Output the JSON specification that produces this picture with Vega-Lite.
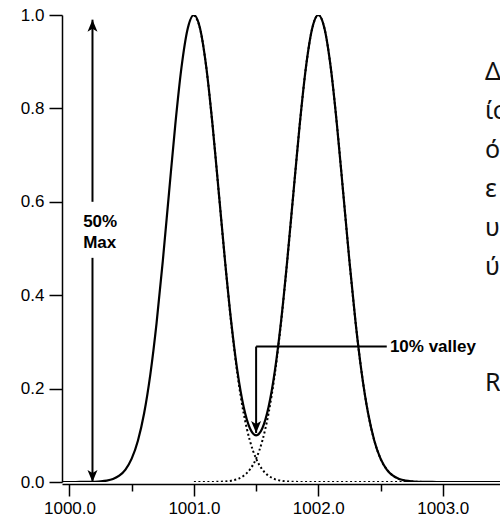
{
  "$schema": "https://vega.github.io/schema/vega-lite/v6.json",
  "width": 438,
  "height": 467,
  "autosize": {"type": "none"},
  "padding": {"left": 62, "top": 15, "right": 0, "bottom": 49},
  "background": "white",
  "config": {
    "view": {"stroke": null},
    "axis": {"grid": false, "domainColor": "black", "tickColor": "black", "labelColor": "black", "domainWidth": 1.5, "tickWidth": 1.5, "labelFont": "Liberation Sans", "labelFontSize": 17, "title": null}
  },
  "datasets": {
    "curve": [
      {"x": 999.9, "total": 0, "c1": null, "c2": null},
      {"x": 999.95, "total": 0, "c1": null, "c2": null},
      {"x": 1000.0, "total": 0, "c1": null, "c2": null},
      {"x": 1000.05, "total": 0, "c1": null, "c2": null},
      {"x": 1000.1, "total": 0.0001, "c1": null, "c2": null},
      {"x": 1000.15, "total": 0.0002, "c1": null, "c2": null},
      {"x": 1000.2, "total": 0.0005, "c1": null, "c2": null},
      {"x": 1000.25, "total": 0.0012, "c1": null, "c2": null},
      {"x": 1000.3, "total": 0.0028, "c1": null, "c2": null},
      {"x": 1000.35, "total": 0.0063, "c1": null, "c2": null},
      {"x": 1000.4, "total": 0.0134, "c1": null, "c2": null},
      {"x": 1000.45, "total": 0.0267, "c1": null, "c2": null},
      {"x": 1000.5, "total": 0.05, "c1": null, "c2": null},
      {"x": 1000.55, "total": 0.0884, "c1": null, "c2": null},
      {"x": 1000.6, "total": 0.1471, "c1": null, "c2": null},
      {"x": 1000.65, "total": 0.2305, "c1": null, "c2": null},
      {"x": 1000.7, "total": 0.3402, "c1": null, "c2": null},
      {"x": 1000.75, "total": 0.473, "c1": null, "c2": null},
      {"x": 1000.8, "total": 0.6193, "c1": null, "c2": null},
      {"x": 1000.85, "total": 0.7638, "c1": null, "c2": null},
      {"x": 1000.9, "total": 0.8871, "c1": null, "c2": null},
      {"x": 1000.95, "total": 0.9705, "c1": null, "c2": null},
      {"x": 1001.0, "total": 1.0, "c1": 1.0, "c2": 0},
      {"x": 1001.05, "total": 0.9705, "c1": 0.9705, "c2": 0},
      {"x": 1001.1, "total": 0.8872, "c1": 0.8871, "c2": 0.0001},
      {"x": 1001.15, "total": 0.764, "c1": 0.7638, "c2": 0.0002},
      {"x": 1001.2, "total": 0.6198, "c1": 0.6193, "c2": 0.0005},
      {"x": 1001.25, "total": 0.4742, "c1": 0.473, "c2": 0.0012},
      {"x": 1001.3, "total": 0.343, "c1": 0.3402, "c2": 0.0028},
      {"x": 1001.35, "total": 0.2368, "c1": 0.2305, "c2": 0.0063},
      {"x": 1001.4, "total": 0.1605, "c1": 0.1471, "c2": 0.0134},
      {"x": 1001.45, "total": 0.1151, "c1": 0.0884, "c2": 0.0267},
      {"x": 1001.5, "total": 0.1, "c1": 0.05, "c2": 0.05},
      {"x": 1001.55, "total": 0.1151, "c1": 0.0267, "c2": 0.0884},
      {"x": 1001.6, "total": 0.1605, "c1": 0.0134, "c2": 0.1471},
      {"x": 1001.65, "total": 0.2368, "c1": 0.0063, "c2": 0.2305},
      {"x": 1001.7, "total": 0.343, "c1": 0.0028, "c2": 0.3402},
      {"x": 1001.75, "total": 0.4742, "c1": 0.0012, "c2": 0.473},
      {"x": 1001.8, "total": 0.6198, "c1": 0.0005, "c2": 0.6193},
      {"x": 1001.85, "total": 0.764, "c1": 0.0002, "c2": 0.7638},
      {"x": 1001.9, "total": 0.8872, "c1": 0.0001, "c2": 0.8871},
      {"x": 1001.95, "total": 0.9705, "c1": 0, "c2": 0.9705},
      {"x": 1002.0, "total": 1.0, "c1": 0, "c2": 1.0},
      {"x": 1002.05, "total": 0.9705, "c1": 0, "c2": 0.9705},
      {"x": 1002.1, "total": 0.8871, "c1": 0, "c2": 0.8871},
      {"x": 1002.15, "total": 0.7638, "c1": 0, "c2": 0.7638},
      {"x": 1002.2, "total": 0.6193, "c1": 0, "c2": 0.6193},
      {"x": 1002.25, "total": 0.473, "c1": 0, "c2": 0.473},
      {"x": 1002.3, "total": 0.3402, "c1": 0, "c2": 0.3402},
      {"x": 1002.35, "total": 0.2305, "c1": 0, "c2": 0.2305},
      {"x": 1002.4, "total": 0.1471, "c1": 0, "c2": 0.1471},
      {"x": 1002.45, "total": 0.0884, "c1": 0, "c2": 0.0884},
      {"x": 1002.5, "total": 0.05, "c1": 0, "c2": 0.05},
      {"x": 1002.55, "total": 0.0267, "c1": 0, "c2": 0.0267},
      {"x": 1002.6, "total": 0.0134, "c1": 0, "c2": 0.0134},
      {"x": 1002.65, "total": 0.0063, "c1": 0, "c2": 0.0063},
      {"x": 1002.7, "total": 0.0028, "c1": 0, "c2": 0.0028},
      {"x": 1002.75, "total": 0.0012, "c1": 0, "c2": 0.0012},
      {"x": 1002.8, "total": 0.0005, "c1": 0, "c2": 0.0005},
      {"x": 1002.85, "total": 0.0002, "c1": 0, "c2": 0.0002},
      {"x": 1002.9, "total": 0.0001, "c1": 0, "c2": 0.0001},
      {"x": 1002.95, "total": 0, "c1": 0, "c2": 0},
      {"x": 1003.0, "total": 0, "c1": 0, "c2": 0},
      {"x": 1003.1, "total": 0, "c1": null, "c2": null},
      {"x": 1003.2, "total": 0, "c1": null, "c2": null},
      {"x": 1003.3, "total": 0, "c1": null, "c2": null},
      {"x": 1003.4, "total": 0, "c1": null, "c2": null},
      {"x": 1003.5, "total": 0, "c1": null, "c2": null}
    ],
    "rules": [
      {"x": 1000.185, "x2": 1000.185, "y": 0.0, "y2": 0.48},
      {"x": 1000.185, "x2": 1000.185, "y": 0.6, "y2": 0.99},
      {"x": 1001.5, "x2": 1001.5, "y": 0.105, "y2": 0.29},
      {"x": 1001.5, "x2": 1002.55, "y": 0.29, "y2": 0.29}
    ],
    "up": [{"x": 1000.185, "y": 0.99}],
    "down": [{"x": 1000.185, "y": 0.0}, {"x": 1001.5, "y": 0.105}],
    "bold": [
      {"x": 1000.11, "y": 0.557, "text": "50%"},
      {"x": 1000.11, "y": 0.512, "text": "Max"},
      {"x": 1002.575, "y": 0.289, "text": "10% valley"}
    ],
    "greek": [
      {"x": 1003.34, "y": 0.878, "text": "Δ"},
      {"x": 1003.34, "y": 0.794, "text": "ίσ"},
      {"x": 1003.34, "y": 0.711, "text": "ό"},
      {"x": 1003.34, "y": 0.627, "text": "ε"},
      {"x": 1003.34, "y": 0.544, "text": "υ"},
      {"x": 1003.34, "y": 0.46, "text": "ύ"},
      {"x": 1003.34, "y": 0.212, "text": "R"}
    ]
  },
  "layer": [
    {
      "data": {"name": "curve"},
      "mark": {"type": "line", "color": "black", "strokeWidth": 2, "strokeDash": [2, 2.5], "interpolate": "monotone", "clip": true},
      "encoding": {
        "x": {"field": "x", "type": "quantitative", "scale": {"domain": [999.94, 1003.46], "nice": false, "zero": false},
          "axis": {"values": [1000, 1000.5, 1001, 1001.5, 1002, 1002.5, 1003], "labelExpr": "datum.value % 1 === 0 ? format(datum.value, '.1f') : ''", "offset": 2, "tickSize": {"condition": {"test": "datum.value % 1 !== 0", "value": 7}, "value": 12}, "labelPadding": 4}},
        "y": {"field": "c1", "type": "quantitative", "scale": {"domain": [0, 1], "nice": false},
          "axis": {"values": [0, 0.2, 0.4, 0.6, 0.8, 1.0], "format": ".1f", "tickSize": 13, "labelPadding": 5}}
      }
    },
    {
      "data": {"name": "curve"},
      "mark": {"type": "line", "color": "black", "strokeWidth": 2, "strokeDash": [2, 2.5], "interpolate": "monotone", "clip": true},
      "encoding": {
        "x": {"field": "x", "type": "quantitative"},
        "y": {"field": "c2", "type": "quantitative"}
      }
    },
    {
      "data": {"name": "curve"},
      "mark": {"type": "line", "color": "black", "strokeWidth": 2.2, "interpolate": "monotone", "clip": true},
      "encoding": {
        "x": {"field": "x", "type": "quantitative"},
        "y": {"field": "total", "type": "quantitative"}
      }
    },
    {
      "data": {"name": "rules"},
      "mark": {"type": "rule", "color": "black", "strokeWidth": 2},
      "encoding": {
        "x": {"field": "x", "type": "quantitative"},
        "x2": {"field": "x2"},
        "y": {"field": "y", "type": "quantitative"},
        "y2": {"field": "y2"}
      }
    },
    {
      "data": {"name": "up"},
      "mark": {"type": "point", "shape": "M0,0L-1,2.4L0,1.8L1,2.4Z", "filled": true, "size": 100, "color": "black", "opacity": 1},
      "encoding": {
        "x": {"field": "x", "type": "quantitative"},
        "y": {"field": "y", "type": "quantitative"}
      }
    },
    {
      "data": {"name": "down"},
      "mark": {"type": "point", "shape": "M0,0L-1,-2.4L0,-1.8L1,-2.4Z", "filled": true, "size": 100, "color": "black", "opacity": 1},
      "encoding": {
        "x": {"field": "x", "type": "quantitative"},
        "y": {"field": "y", "type": "quantitative"}
      }
    },
    {
      "data": {"name": "bold"},
      "mark": {"type": "text", "font": "Liberation Sans", "fontWeight": "bold", "fontSize": 17, "align": "left", "baseline": "middle", "color": "black"},
      "encoding": {
        "x": {"field": "x", "type": "quantitative"},
        "y": {"field": "y", "type": "quantitative"},
        "text": {"field": "text"}
      }
    },
    {
      "data": {"name": "greek"},
      "mark": {"type": "text", "font": "Noto Sans", "fontSize": 25, "align": "left", "baseline": "middle", "color": "#111111"},
      "encoding": {
        "x": {"field": "x", "type": "quantitative"},
        "y": {"field": "y", "type": "quantitative"},
        "text": {"field": "text"}
      }
    }
  ]
}
